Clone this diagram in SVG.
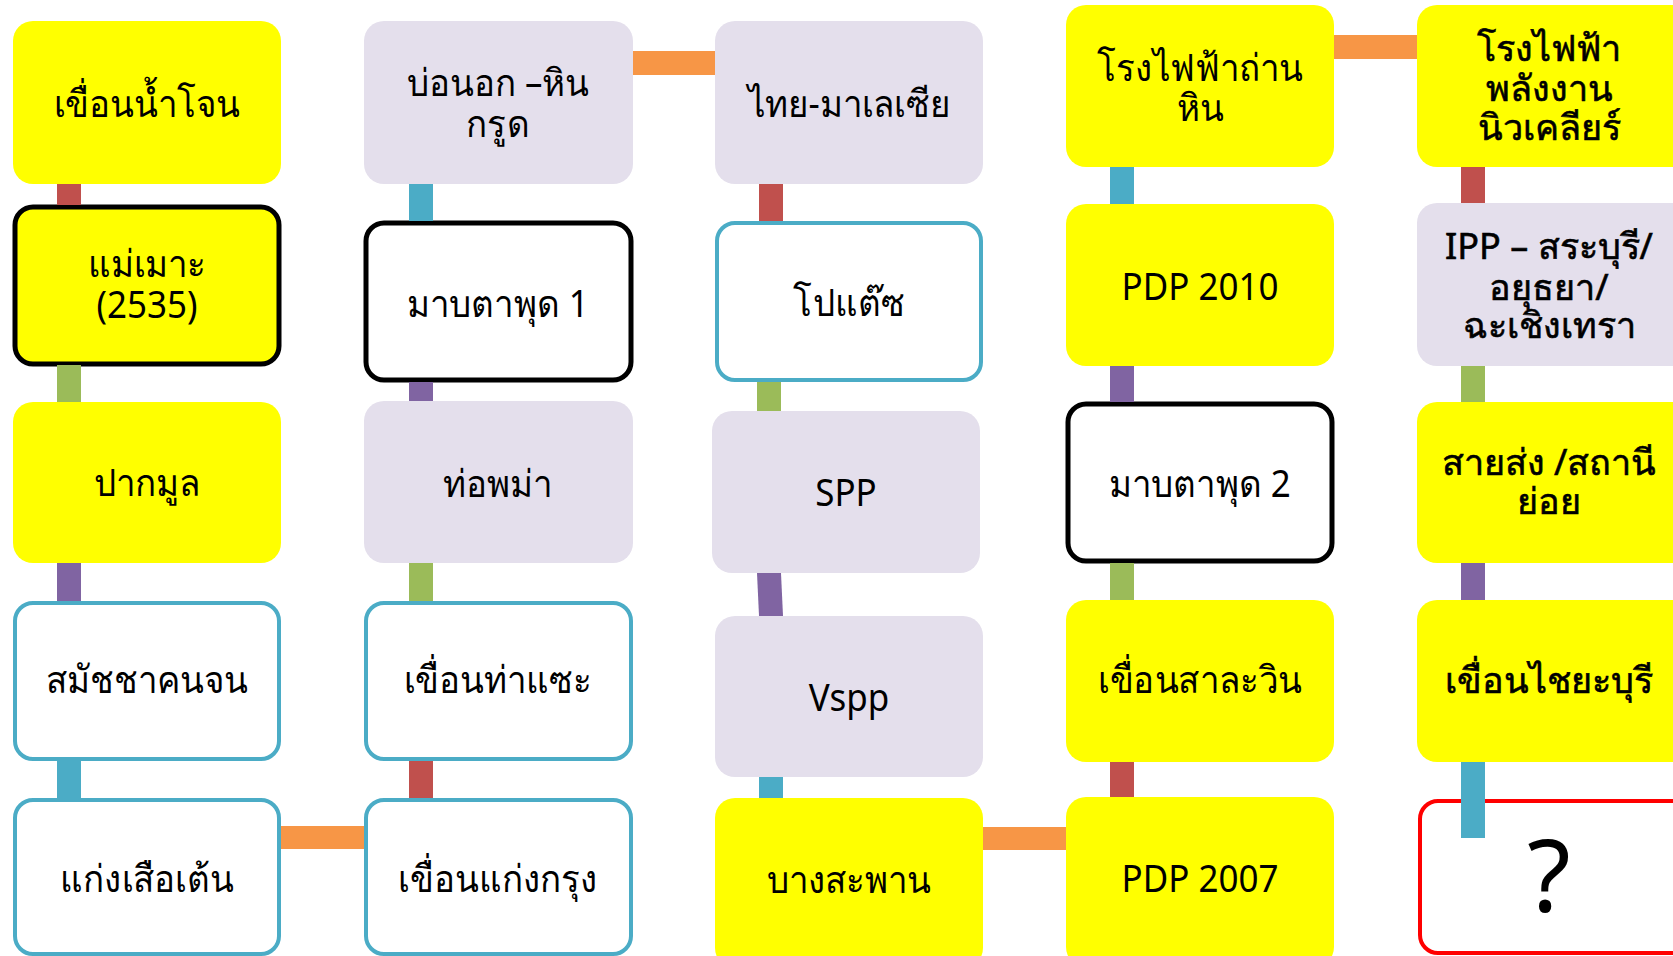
<svg xmlns="http://www.w3.org/2000/svg" width="1673" height="956" viewBox="0 0 1673 956">
<style>
.y{fill:#FFFF00}
.l{fill:#E4DFEC}
.wb{fill:#FFFFFF;stroke:#4BACC6;stroke-width:4}
.wk{fill:#FFFFFF;stroke:#000000;stroke-width:5}
.yk{fill:#FFFF00;stroke:#000000;stroke-width:5}
.wr{fill:#FFFFFF;stroke:#FF0000;stroke-width:4}
text{font-family:"Noto Sans","DejaVu Sans",sans-serif;font-size:38px;fill:#000;text-anchor:middle}
.c5 text{font-size:36px;stroke:#000;stroke-width:0.6}
.c5 text.q{font-size:100px;stroke:none}
.cr{fill:#C0504D}.cg{fill:#9BBB59}.cp{fill:#8064A2}.cb{fill:#4BACC6}.co{fill:#F79646}
</style>
<g id="n1-1"><rect x="13" y="21" width="268" height="163" rx="20" class="y"/><text transform="translate(147 0) scale(0.92 1)" y="117">เขื่อนน้ำโจน</text></g>
<g id="n1-2"><rect x="15" y="207" width="264" height="157" rx="18" class="yk"/><text transform="translate(147 0) scale(0.92 1)" y="277">แม่เมาะ</text><text transform="translate(147 0) scale(0.92 1)" y="318">(2535)</text></g>
<g id="n1-3"><rect x="13" y="402" width="268" height="161" rx="20" class="y"/><text transform="translate(147 0) scale(0.92 1)" y="496">ปากมูล</text></g>
<g id="n1-4"><rect x="15" y="603" width="264" height="156" rx="18" class="wb"/><text transform="translate(147 0) scale(0.92 1)" y="693">สมัชชาคนจน</text></g>
<g id="n1-5"><rect x="15" y="800" width="264" height="154" rx="18" class="wb"/><text transform="translate(147 0) scale(0.92 1)" y="892">แก่งเสือเต้น</text></g>

<g id="n2-1"><rect x="364" y="21" width="269" height="163" rx="20" class="l"/><text transform="translate(498 0) scale(0.92 1)" y="96">บ่อนอก –หิน</text><text transform="translate(498 0) scale(0.92 1)" y="137">กรูด</text></g>
<g id="n2-2"><rect x="366" y="223" width="265" height="157" rx="18" class="wk"/><text transform="translate(498 0) scale(0.92 1)" y="317">มาบตาพุด 1</text></g>
<g id="n2-3"><rect x="364" y="401" width="269" height="162" rx="20" class="l"/><text transform="translate(498 0) scale(0.92 1)" y="497">ท่อพม่า</text></g>
<g id="n2-4"><rect x="366" y="603" width="265" height="156" rx="18" class="wb"/><text transform="translate(498 0) scale(0.92 1)" y="693">เขื่อนท่าแซะ</text></g>
<g id="n2-5"><rect x="366" y="800" width="265" height="154" rx="18" class="wb"/><text transform="translate(498 0) scale(0.92 1)" y="892">เขื่อนแก่งกรุง</text></g>

<g id="n3-1"><rect x="715" y="21" width="268" height="163" rx="20" class="l"/><text transform="translate(849 0) scale(0.92 1)" y="117">ไทย-มาเลเซีย</text></g>
<g id="n3-2"><rect x="717" y="223" width="264" height="157" rx="18" class="wb"/><text transform="translate(849 0) scale(0.92 1)" y="316">โปแต๊ซ</text></g>
<g id="n3-3"><rect x="712" y="411" width="268" height="162" rx="20" class="l"/><text transform="translate(846 0) scale(0.92 1)" y="506">SPP</text></g>
<g id="n3-4"><rect x="715" y="616" width="268" height="161" rx="20" class="l"/><text transform="translate(849 0) scale(0.92 1)" y="711">Vspp</text></g>
<g id="n3-5"><rect x="715" y="798" width="268" height="170" rx="20" class="y"/><text transform="translate(849 0) scale(0.92 1)" y="893">บางสะพาน</text></g>

<g id="n4-1"><rect x="1066" y="5" width="268" height="162" rx="20" class="y"/><text transform="translate(1200 0) scale(0.92 1)" y="81">โรงไฟฟ้าถ่าน</text><text transform="translate(1200 0) scale(0.92 1)" y="121">หิน</text></g>
<g id="n4-2"><rect x="1066" y="204" width="268" height="162" rx="20" class="y"/><text transform="translate(1200 0) scale(0.92 1)" y="300">PDP 2010</text></g>
<g id="n4-3"><rect x="1068" y="404" width="264" height="157" rx="18" class="wk"/><text transform="translate(1200 0) scale(0.92 1)" y="497">มาบตาพุด 2</text></g>
<g id="n4-4"><rect x="1066" y="600" width="268" height="162" rx="20" class="y"/><text transform="translate(1200 0) scale(0.92 1)" y="693">เขื่อนสาละวิน</text></g>
<g id="n4-5"><rect x="1066" y="797" width="268" height="170" rx="20" class="y"/><text transform="translate(1200 0) scale(0.92 1)" y="892">PDP 2007</text></g>

<g class="c5">
<g id="n5-1"><rect x="1417" y="5" width="280" height="162" rx="20" class="y"/><text x="1549" y="61">โรงไฟฟ้า</text><text x="1549" y="101">พลังงาน</text><text x="1549" y="140">นิวเคลียร์</text></g>
<g id="n5-2"><rect x="1417" y="203" width="280" height="163" rx="20" class="l"/><text x="1549" y="259">IPP – สระบุรี/</text><text x="1549" y="300">อยุธยา/</text><text x="1549" y="338">ฉะเชิงเทรา</text></g>
<g id="n5-3"><rect x="1417" y="402" width="280" height="161" rx="20" class="y"/><text x="1549" y="475">สายส่ง /สถานี</text><text x="1549" y="514">ย่อย</text></g>
<g id="n5-4"><rect x="1417" y="600" width="280" height="162" rx="20" class="y"/><text x="1549" y="693">เขื่อนไชยะบุรี</text></g>
<g id="n5-5"><rect x="1420" y="801" width="280" height="152" rx="18" class="wr"/><text x="1549" y="912" class="q">?</text></g>
</g>

<g id="connectors">
<rect class="cr" x="57" y="184" width="24" height="21"/>
<rect class="cg" x="57" y="365" width="24" height="37"/>
<rect class="cp" x="57" y="563" width="24" height="38"/>
<rect class="cb" x="57" y="761" width="24" height="37"/>
<rect class="co" x="281" y="826" width="83" height="23"/>

<rect class="cb" x="409" y="184" width="24" height="37"/>
<rect class="cp" x="409" y="382" width="24" height="19"/>
<rect class="cg" x="409" y="563" width="24" height="38"/>
<rect class="cr" x="409" y="761" width="24" height="37"/>
<rect class="co" x="633" y="51" width="82" height="24"/>

<rect class="cr" x="759" y="184" width="24" height="37"/>
<rect class="cg" x="757" y="382" width="24" height="29"/>
<polygon class="cp" points="757,573 781,573 783,616 759,616"/>
<rect class="cb" x="759" y="777" width="24" height="21"/>
<rect class="co" x="983" y="827" width="83" height="23"/>

<rect class="cb" x="1110" y="167" width="24" height="37"/>
<rect class="cp" x="1110" y="366" width="24" height="36"/>
<rect class="cg" x="1110" y="563" width="24" height="37"/>
<rect class="cr" x="1110" y="762" width="24" height="35"/>
<rect class="co" x="1334" y="35" width="83" height="24"/>

<rect class="cr" x="1461" y="167" width="24" height="36"/>
<rect class="cg" x="1461" y="366" width="24" height="36"/>
<rect class="cp" x="1461" y="563" width="24" height="37"/>
<rect class="cb" x="1461" y="762" width="24" height="76"/>
</g>
</svg>
